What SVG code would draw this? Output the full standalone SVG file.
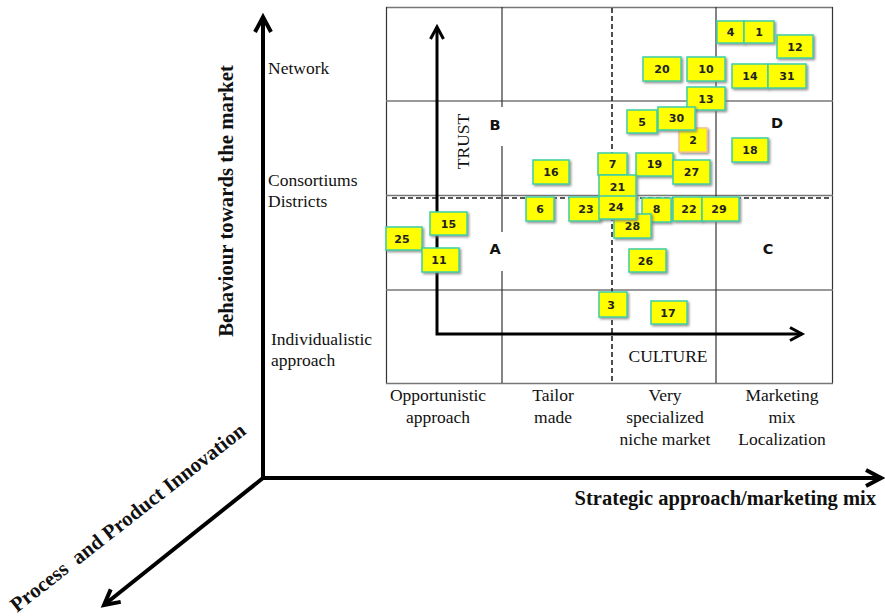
<svg xmlns="http://www.w3.org/2000/svg" width="885" height="616" viewBox="0 0 885 616">
<style>
.serif{font-family:"Liberation Serif","Times New Roman",serif;fill:#111}
.lab{font-size:17.5px}
.bold{font-weight:bold}
.quad{font-family:"DejaVu Sans","Liberation Sans",sans-serif;font-weight:bold;font-size:14.5px;fill:#111}
.box rect{fill:#ffff00;stroke:#3ccfa8;stroke-width:1.5;filter:url(#sh)}
.box text{font-family:"DejaVu Sans","Liberation Sans",sans-serif;font-weight:bold;font-size:11px;fill:#222;text-anchor:middle}
.grid{stroke:#333;stroke-width:1.2;fill:none}
.gridg{stroke:#777;stroke-width:1.5;fill:none}
.dash{stroke:#222;stroke-width:1.6;stroke-dasharray:5 3;fill:none}
.ax{stroke:#000;stroke-width:4;fill:none}
.ax2{stroke:#000;stroke-width:3;fill:none}
</style>
<defs>
<filter id="sh" x="-20%" y="-20%" width="150%" height="150%">
<feDropShadow dx="1.5" dy="1.5" stdDeviation="0.8" flood-color="#777" flood-opacity="0.8"/>
</filter>
<marker id="ahBig" markerUnits="userSpaceOnUse" viewBox="-20 -12 24 24" markerWidth="24" markerHeight="24" refX="0" refY="0" orient="auto" overflow="visible">
<path d="M-15,-8 L0,0 L-15,8" fill="none" stroke="#000" stroke-width="4"/>
</marker>
<marker id="ahSmall" markerUnits="userSpaceOnUse" viewBox="-16 -10 20 20" markerWidth="20" markerHeight="20" refX="0" refY="0" orient="auto-start-reverse" overflow="visible">
<path d="M-12,-6.5 L0,0 L-12,6.5" fill="none" stroke="#000" stroke-width="3"/>
</marker>
</defs>
<rect width="885" height="616" fill="#fff"/>

<g id="grid">
<line class="gridg" x1="386" y1="7.5" x2="833" y2="7.5"/>
<line class="grid" x1="386.5" y1="7" x2="386.5" y2="383.5"/>
<line class="grid" x1="832.5" y1="7" x2="832.5" y2="383.5"/>
<line class="gridg" x1="386" y1="383.5" x2="833" y2="383.5"/>
<line class="gridg" x1="386" y1="101" x2="833" y2="101"/>
<line class="gridg" x1="386" y1="195.5" x2="833" y2="195.5"/>
<line class="gridg" x1="386" y1="290" x2="833" y2="290"/>
<line class="grid" x1="502" y1="7" x2="502" y2="383"/>
<line class="grid" x1="716" y1="7" x2="716" y2="383"/>
<line class="dash" x1="612" y1="8" x2="612" y2="383"/>
<line class="dash" x1="392" y1="198" x2="832" y2="198" stroke-width="2"/>
</g>

<g id="connectors">
<line class="ax" x1="263" y1="480" x2="263" y2="17" marker-end="url(#ahBig)"/>
<line class="ax" x1="261" y1="478" x2="881" y2="478" marker-end="url(#ahBig)"/>
<line class="ax" x1="263" y1="478" x2="104" y2="605" marker-end="url(#ahBig)"/>
<polyline class="ax2" points="437,27 437,334 802,334" marker-start="url(#ahSmall)" marker-end="url(#ahSmall)"/>
</g>

<g id="quadrant-labels">
<g id="label-B"><rect x="484" y="107" width="22" height="39" fill="#fff"/><text class="quad" x="495" y="130" text-anchor="middle">B</text></g>
<g id="label-A"><rect x="484" y="232" width="22" height="39" fill="#fff"/><text class="quad" x="495" y="254" text-anchor="middle">A</text></g>
<g id="label-D"><text class="quad" x="777" y="128" text-anchor="middle">D</text></g>
<g id="label-C"><text class="quad" x="768" y="254" text-anchor="middle">C</text></g>
<text id="trust" class="serif" font-size="17.5" transform="translate(469,141.5) rotate(-90)" text-anchor="middle">TRUST</text>
<text id="culture" class="serif" font-size="17.5" x="668" y="362" text-anchor="middle">CULTURE</text>
</g>

<g id="y-labels" class="serif lab">
<text x="268" y="74">Network</text>
<text x="268" y="186">Consortiums</text>
<text x="268" y="207">Districts</text>
<text x="271" y="345">Individualistic</text>
<text x="271" y="366">approach</text>
</g>

<g id="x-labels" class="serif lab" text-anchor="middle">
<text x="438" y="401">Opportunistic</text>
<text x="438" y="423">approach</text>
<text x="553" y="401">Tailor</text>
<text x="553" y="423">made</text>
<text x="665" y="401">Very</text>
<text x="665" y="423">specialized</text>
<text x="665" y="445">niche market</text>
<text x="782" y="401">Marketing</text>
<text x="782" y="423">mix</text>
<text x="782" y="445">Localization</text>
</g>

<g id="axis-titles" class="serif bold">
<text font-size="20.8" transform="translate(233,201) rotate(-90)" text-anchor="middle">Behaviour towards the market</text>
<text font-size="20.5" x="876" y="505" text-anchor="end">Strategic approach/marketing mix</text>
<text font-size="21" transform="translate(17,613) rotate(-38)" style="white-space:pre">Process  and Product Innovation</text>
</g>

<g id="boxes">
<g id="n4" class="box"><rect x="717" y="21" width="27" height="22"/><text x="730.5" y="36">4</text></g>
<g id="n1" class="box"><rect x="744" y="21" width="30" height="22"/><text x="759" y="36">1</text></g>
<g id="n12" class="box"><rect x="777" y="35" width="36" height="23"/><text x="795" y="50.5">12</text></g>
<g id="n20" class="box"><rect x="643" y="57" width="38" height="24"/><text x="662" y="73">20</text></g>
<g id="n10" class="box"><rect x="687" y="57" width="38" height="24"/><text x="706" y="73">10</text></g>
<g id="n14" class="box"><rect x="732" y="64" width="36" height="24"/><text x="750" y="80">14</text></g>
<g id="n31" class="box"><rect x="768" y="64" width="38" height="24"/><text x="787" y="80">31</text></g>
<g id="n13" class="box"><rect x="687" y="87" width="38" height="23"/><text x="706" y="102.5">13</text></g>
<g id="n5" class="box"><rect x="627" y="110" width="30" height="23"/><text x="642" y="125.5">5</text></g>
<g id="n2" class="box"><rect x="679" y="128" width="28" height="24" style="stroke:#f5c28e"/><text x="693" y="144">2</text></g>
<g id="n30" class="box"><rect x="658" y="107" width="37" height="23"/><text x="676.5" y="122">30</text></g>
<g id="n18" class="box"><rect x="732" y="138" width="36" height="24"/><text x="750" y="154">18</text></g>
<g id="n19" class="box"><rect x="636" y="153" width="37" height="23"/><text x="654.5" y="168">19</text></g>
<g id="n27" class="box"><rect x="673" y="160" width="37" height="24"/><text x="691.5" y="176">27</text></g>
<g id="n16" class="box"><rect x="533" y="160" width="36" height="24"/><text x="551" y="176">16</text></g>
<g id="n7" class="box"><rect x="598" y="153" width="29" height="22"/><text x="612.5" y="168">7</text></g>
<g id="n21" class="box"><rect x="599" y="175" width="37" height="23"/><text x="617.5" y="190.5">21</text></g>
<g id="n6" class="box"><rect x="526" y="197" width="28" height="24"/><text x="540" y="213">6</text></g>
<g id="n23" class="box"><rect x="569" y="197" width="31" height="24"/><text x="586" y="213">23</text></g>
<g id="n8" class="box"><rect x="642" y="198" width="29" height="24"/><text x="656.5" y="213">8</text></g>
<g id="n28" class="box"><rect x="614" y="214" width="37" height="24"/><text x="632.5" y="230">28</text></g>
<g id="n22" class="box"><rect x="673" y="197" width="29" height="24"/><text x="689" y="213">22</text></g>
<g id="n29" class="box"><rect x="702" y="197" width="37" height="24"/><text x="719" y="213">29</text></g>
<g id="n24" class="box"><rect x="599" y="196" width="37" height="23"/><text x="616" y="211">24</text></g>
<g id="n15" class="box"><rect x="430" y="212" width="37" height="23"/><text x="448.5" y="228">15</text></g>
<g id="n25" class="box"><rect x="386" y="227" width="36" height="23"/><text x="402" y="243">25</text></g>
<g id="n11" class="box"><rect x="422" y="248" width="37" height="24"/><text x="439" y="264">11</text></g>
<g id="n26" class="box"><rect x="629" y="249" width="37" height="23"/><text x="645.5" y="264.5">26</text></g>
<g id="n3" class="box"><rect x="599" y="292" width="28" height="25"/><text x="611" y="309">3</text></g>
<g id="n17" class="box"><rect x="651" y="301" width="36" height="23"/><text x="668" y="316.5">17</text></g>
</g>
</svg>
